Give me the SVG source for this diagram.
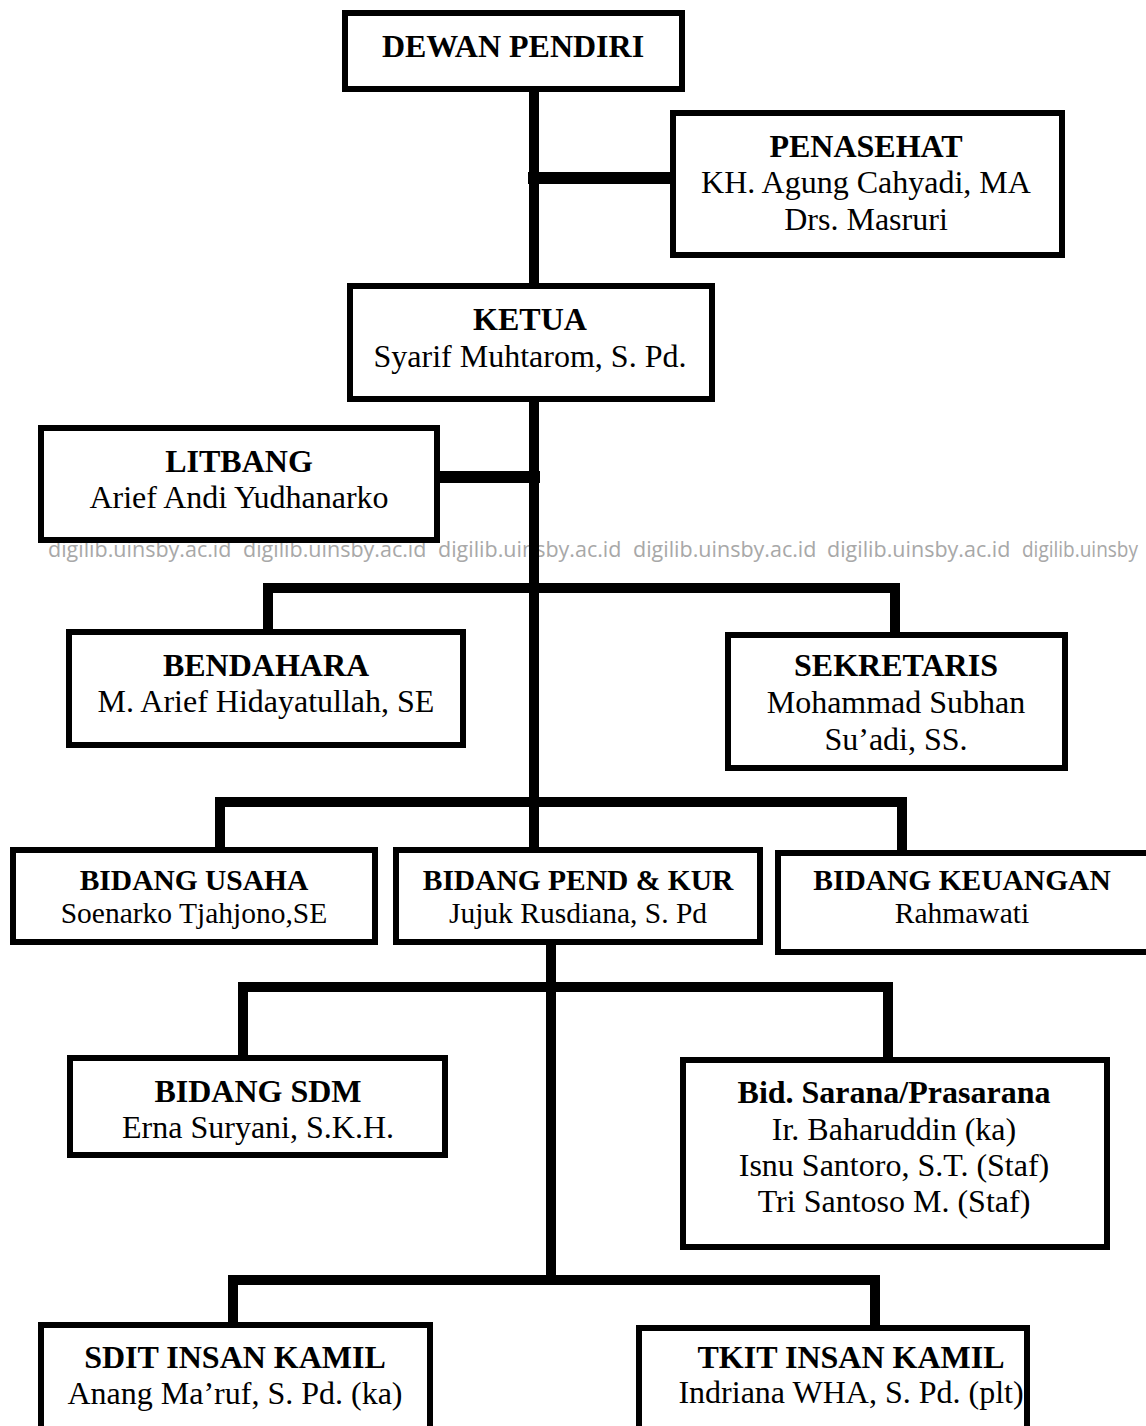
<svg xmlns="http://www.w3.org/2000/svg" width="1146" height="1426" viewBox="0 0 1146 1426">
<style>
.box{fill:#fff;stroke:#000;stroke-width:6}
.t{font-family:"Liberation Serif","Times New Roman",serif;font-size:32px;fill:#000;text-anchor:middle}
.b{font-weight:bold}
.s{font-size:29.5px}
.wm{font-family:"Open Sans","DejaVu Sans",sans-serif;font-size:21.5px;fill:#a8a8a8}
.c{fill:none;stroke:#000;stroke-width:10;stroke-linecap:square}
</style>
<rect width="1146" height="1426" fill="#fff"/>
<g id="watermark"><text class="wm" x="48" y="557">digilib.uinsby.ac.id</text><text class="wm" x="243" y="557">digilib.uinsby.ac.id</text><text class="wm" x="438" y="557">digilib.uinsby.ac.id</text><text class="wm" x="633" y="557">digilib.uinsby.ac.id</text><text class="wm" x="827" y="557">digilib.uinsby.ac.id</text><text class="wm" x="1022" y="557" textLength="116" lengthAdjust="spacingAndGlyphs">digilib.uinsby</text></g>
<g id="connectors">
<path class="c" d="M534 92 V283"/>
<path class="c" d="M534 178 H670" style="stroke-width:12"/>
<path class="c" d="M534 402 V847"/>
<path class="c" d="M440 477 H534" style="stroke-width:12"/>
<path class="c" d="M268 629 V588 H895 V632"/>
<path class="c" d="M220 847 V802 H902 V850"/>
<path class="c" d="M551 945 V1280"/>
<path class="c" d="M243 1055 V987 H888 V1057"/>
<path class="c" d="M233 1322 V1280 H875 V1325"/>
</g>
<g id="dewan-pendiri"><rect class="box" x="345" y="13" width="337" height="76"/><text class="t b" x="513" y="57">DEWAN PENDIRI</text></g>
<g id="penasehat"><rect class="box" x="673" y="113" width="389" height="142"/><text class="t b" x="866" y="157">PENASEHAT</text><text class="t" x="866" y="193">KH. Agung Cahyadi, MA</text><text class="t" x="866" y="230">Drs. Masruri</text></g>
<g id="ketua"><rect class="box" x="350" y="286" width="362" height="113"/><text class="t b" x="530" y="330">KETUA</text><text class="t" x="530" y="367">Syarif Muhtarom, S. Pd.</text></g>
<g id="litbang"><rect class="box" x="41" y="428" width="396" height="112"/><text class="t b" x="239" y="472">LITBANG</text><text class="t" x="239" y="508">Arief Andi Yudhanarko</text></g>
<g id="bendahara"><rect class="box" x="69" y="632" width="394" height="113"/><text class="t b" x="266" y="676">BENDAHARA</text><text class="t" x="266" y="712">M. Arief Hidayatullah, SE</text></g>
<g id="sekretaris"><rect class="box" x="728" y="635" width="337" height="133"/><text class="t b" x="896" y="676">SEKRETARIS</text><text class="t" x="896" y="713">Mohammad Subhan</text><text class="t" x="896" y="750">Su’adi, SS.</text></g>
<g id="bidang-usaha"><rect class="box" x="13" y="850" width="362" height="92"/><text class="t b s" x="194" y="890">BIDANG USAHA</text><text class="t s" x="194" y="923">Soenarko Tjahjono,SE</text></g>
<g id="bidang-pend-kur"><rect class="box" x="396" y="850" width="364" height="92"/><text class="t b s" x="578" y="890">BIDANG PEND &amp; KUR</text><text class="t s" x="578" y="923">Jujuk Rusdiana, S. Pd</text></g>
<g id="bidang-keuangan"><rect class="box" x="778" y="853" width="372" height="99"/><text class="t b s" x="962" y="890">BIDANG KEUANGAN</text><text class="t s" x="962" y="923">Rahmawati</text></g>
<g id="bidang-sdm"><rect class="box" x="70" y="1058" width="375" height="97"/><text class="t b" x="258" y="1102">BIDANG SDM</text><text class="t" x="258" y="1138">Erna Suryani, S.K.H.</text></g>
<g id="bid-sarana"><rect class="box" x="683" y="1060" width="424" height="187"/><text class="t b" x="894" y="1103">Bid. Sarana/Prasarana</text><text class="t" x="894" y="1140">Ir. Baharuddin (ka)</text><text class="t" x="894" y="1176">Isnu Santoro, S.T. (Staf)</text><text class="t" x="894" y="1212">Tri Santoso M. (Staf)</text></g>
<g id="sdit"><rect class="box" x="41" y="1325" width="389" height="120"/><text class="t b" x="235" y="1368">SDIT INSAN KAMIL</text><text class="t" x="235" y="1404">Anang Ma’ruf, S. Pd. (ka)</text></g>
<g id="tkit"><rect class="box" x="639" y="1328" width="388" height="120"/><text class="t b" x="851" y="1368">TKIT INSAN KAMIL</text><text class="t" x="851" y="1403">Indriana WHA, S. Pd. (plt)</text></g>
</svg>
